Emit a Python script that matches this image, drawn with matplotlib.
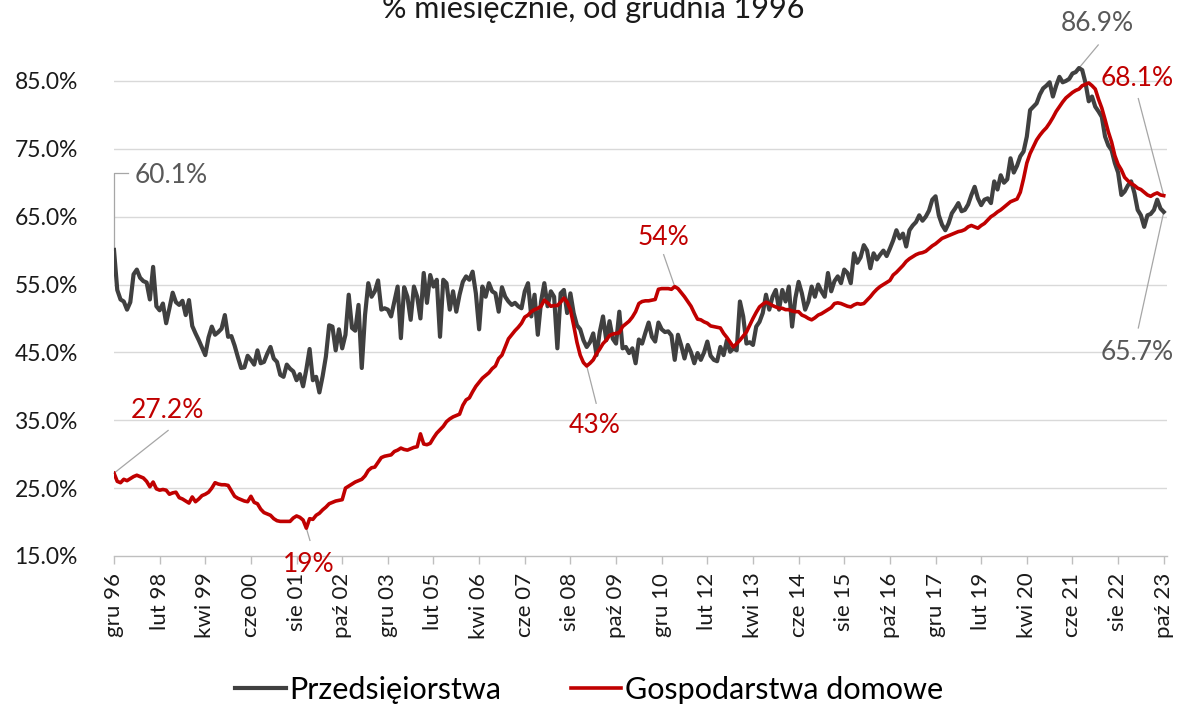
import matplotlib.pyplot as plt
import numpy as np

plt.rcParams['font.family'] = ['Lato', 'DejaVu Sans']

# monthly values, % (gru 1996 .. paź 2023), one row per calendar year
przedsiebiorstwa = [
    60.1,
    54.2, 52.8, 52.5, 51.3, 52.4, 56.5, 57.2, 56.0, 55.5, 55.3, 52.8, 57.6,
    51.8, 51.2, 52.2, 49.3, 51.5, 53.8, 52.4, 52.0, 52.6, 50.5, 52.7, 48.9,
    47.8, 46.8, 45.7, 44.6, 47.2, 48.8, 47.6, 48.0, 48.5, 50.5, 47.3, 47.4,
    46.0, 44.3, 42.7, 42.8, 44.5, 43.9, 43.2, 45.3, 43.4, 43.6, 44.8, 45.8,
    44.1, 43.6, 41.7, 41.4, 43.2, 42.6, 42.2, 40.9, 41.8, 40.0, 42.5, 45.5,
    40.9, 41.4, 39.1, 41.5, 44.4, 49.0, 48.8, 45.3, 48.4, 45.6, 47.6, 53.5,
    48.6, 48.2, 52.0, 42.7, 50.5, 55.2, 53.2, 54.0, 55.6, 51.3, 51.5, 51.3,
    50.3, 52.5, 54.7, 47.1, 54.6, 53.2, 49.8, 54.7, 53.2, 50.0, 56.7, 52.3,
    56.4, 54.7, 55.7, 47.3, 55.7, 55.2, 51.3, 54.0, 51.0, 53.5, 55.4, 56.2,
    55.7, 56.9, 53.7, 48.4, 54.7, 53.2, 55.2, 54.0, 53.7, 51.0, 54.6, 53.2,
    52.5, 52.0, 52.3, 51.8, 51.5, 54.0, 55.2, 50.3, 53.5, 47.6, 52.5, 55.2,
    51.8, 54.0, 53.2, 45.6, 53.7, 54.2, 50.8, 53.7, 50.8, 49.0, 48.4, 46.8,
    45.8, 46.5, 47.8, 44.6, 48.0, 50.3, 46.8, 49.6, 47.0, 46.3, 51.0, 45.6,
    45.8, 44.9, 45.6, 43.4, 46.9, 46.3, 47.9, 49.4, 47.3, 46.6, 49.4, 48.4,
    48.0, 48.1, 47.5, 43.9, 47.6, 46.0, 44.1, 46.1, 45.0, 43.4, 44.9, 43.9,
    45.0, 46.6, 44.5, 43.9, 43.7, 45.8, 44.6, 46.8, 45.1, 45.6, 45.3, 52.5,
    50.3, 46.3, 46.5, 46.1, 48.8, 49.5, 50.8, 53.5, 51.3, 53.2, 54.2, 51.3,
    54.2, 52.5, 54.7, 48.8, 53.0, 55.4, 53.7, 51.3, 52.5, 54.7, 53.2, 55.0,
    54.0, 53.2, 56.7, 54.0, 55.5, 56.2, 55.2, 57.2, 56.7, 55.2, 59.6, 58.2,
    59.0, 60.8, 60.0, 57.4, 59.6, 58.7, 59.4, 60.0, 59.2, 60.3, 61.5, 63.0,
    61.8, 62.5, 60.6, 63.0, 63.7, 64.2, 65.2, 64.4, 65.0, 65.9, 67.5, 68.0,
    65.2, 63.8, 63.0, 64.0, 65.5, 66.2, 67.0, 65.8, 66.0, 66.8, 68.2, 69.4,
    67.7, 66.7, 67.5, 67.7, 67.0, 70.2, 69.0, 71.1, 70.0, 70.5, 73.6, 71.5,
    72.5, 73.9, 74.6, 76.8, 80.7, 81.2, 81.7, 83.0, 83.9, 84.3, 84.8, 82.7,
    84.3, 85.6, 84.8, 85.0, 85.3, 86.1, 86.3, 86.9, 86.6, 84.7, 82.0, 82.7,
    81.2, 80.5, 79.7, 76.8, 75.5, 74.8, 72.9, 71.5, 68.2, 68.7, 69.6, 70.2,
    68.5, 66.0, 65.2, 63.5, 65.2, 65.4, 66.0, 67.5, 66.2, 65.7,
]

gospodarstwa = [
    27.2,
    26.0, 25.8, 26.3, 26.1, 26.4, 26.7, 26.9, 26.7, 26.5, 26.0, 25.2, 25.9,
    24.9, 24.7, 24.8, 24.7, 24.1, 24.3, 24.4, 23.6, 23.4, 23.1, 22.8, 23.7,
    23.0, 23.4, 23.9, 24.1, 24.4, 25.0, 25.8, 25.6, 25.5, 25.5, 25.4, 24.6,
    23.8, 23.5, 23.3, 23.1, 23.0, 23.8, 22.9, 22.7, 21.9, 21.4, 21.2, 21.0,
    20.5, 20.2, 20.1, 20.1, 20.1, 20.1, 20.6, 20.9, 20.7, 20.3, 19.1, 20.5,
    20.4, 21.0, 21.3, 21.8, 22.2, 22.7, 22.9, 23.1, 23.2, 23.3, 25.0, 25.3,
    25.6, 25.9, 26.1, 26.3, 26.8, 27.6, 28.0, 28.1, 28.8, 29.5, 29.7, 29.8,
    29.9, 30.4, 30.6, 30.9, 30.7, 30.6, 30.8, 31.0, 31.1, 33.0, 31.5, 31.4,
    31.6, 32.4, 33.1, 33.6, 34.1, 34.8, 35.2, 35.5, 35.7, 35.9, 37.2, 38.0,
    38.3, 39.2, 40.0, 40.6, 41.2, 41.6, 42.0, 42.6, 43.0, 44.1, 44.6, 45.8,
    47.0, 47.6, 48.2, 48.7, 49.3, 50.2, 50.5, 51.0, 51.3, 51.5, 51.8, 52.7,
    52.3, 51.8, 51.9, 51.9, 52.4, 53.0, 52.4, 51.3, 49.0, 46.5, 44.6, 43.5,
    43.0, 43.4, 43.9, 44.8, 45.5, 46.3, 46.8, 47.5, 47.7, 47.8, 47.9, 48.8,
    49.2, 49.6, 50.2, 51.0, 52.2, 52.5, 52.6, 52.6, 52.7, 52.8, 54.3, 54.4,
    54.4, 54.4, 54.3, 54.7, 54.4, 53.8, 53.2, 52.5, 51.8, 50.8, 49.9, 49.8,
    49.5, 49.3, 48.9, 48.8, 48.7, 48.6, 47.8, 47.2, 46.5, 45.8, 46.3, 46.8,
    47.4, 48.0, 49.0, 50.0, 50.9, 51.7, 52.1, 52.4, 52.2, 51.9, 51.7, 51.5,
    51.5, 51.3, 51.3, 51.1, 51.0, 51.0, 50.5, 50.3, 50.0, 49.8, 50.1, 50.5,
    50.7, 51.0, 51.3, 51.6, 52.2, 52.3, 52.2, 52.0, 51.8, 51.7, 52.0, 52.2,
    52.1, 52.2, 52.7, 53.2, 53.8, 54.3, 54.7, 55.0, 55.3, 55.6, 56.4, 56.8,
    57.3, 57.8, 58.4, 58.8, 59.1, 59.4, 59.6, 59.7, 59.9, 60.3, 60.7, 61.0,
    61.4, 61.8, 62.0, 62.2, 62.4, 62.6, 62.8, 62.9, 63.1, 63.5, 63.7, 63.5,
    63.3, 63.7, 64.0, 64.5, 65.0, 65.3, 65.7, 66.0, 66.4, 66.8, 67.2, 67.4,
    67.6, 68.6, 70.6, 72.9, 74.3, 75.3, 76.3, 77.0, 77.6, 78.1, 78.8, 79.6,
    80.5, 81.2, 81.9, 82.5, 82.9, 83.3, 83.6, 83.8, 84.3, 84.5, 84.7, 84.3,
    83.8, 82.3, 81.0, 79.3, 77.5, 76.0, 74.0, 72.7, 71.9, 70.8, 70.3, 69.9,
    69.6, 69.2, 69.0, 68.6, 68.2, 68.0, 68.3, 68.5, 68.2, 68.1,
]

# every 14th month gets a label
tick_labels = [
    'gru 96', 'lut 98', 'kwi 99', 'cze 00', 'sie 01', 'paź 02',
    'gru 03', 'lut 05', 'kwi 06', 'cze 07', 'sie 08', 'paź 09',
    'gru 10', 'lut 12', 'kwi 13', 'cze 14', 'sie 15', 'paź 16',
    'gru 17', 'lut 19', 'kwi 20', 'cze 21', 'sie 22', 'paź 23',
]
tick_step = 14

GRAY = '#404040'
GRAY_TXT = '#595959'
RED = '#C00000'
LEADER = '#a6a6a6'

fig = plt.figure(figsize=(11.78, 7.09), dpi=100)
ax = fig.add_axes([114 / 1178, 153 / 709, 1053 / 1178, 509 / 709])

x = np.arange(len(przedsiebiorstwa))
g = np.array(przedsiebiorstwa)
r = np.array(gospodarstwa)

ax.plot(x, g, color=GRAY, lw=3.0, solid_joinstyle='round',
        label='Przedsięiorstwa', zorder=3)
ax.plot(x, r, color=RED, lw=2.6, solid_joinstyle='round',
        label='Gospodarstwa domowe', zorder=4)

ax.set_xlim(0, len(x))
ax.set_ylim(15, 90)

yt = np.arange(15, 86, 10)
ax.set_yticks(yt)
ax.set_yticklabels([f'{v:.1f}%' for v in yt])
ax.tick_params(axis='y', length=0, pad=26, labelsize=16.5, labelcolor='#1a1a1a')
for v in yt[1:]:
    ax.axhline(v, color='#d9d9d9', lw=1, zorder=1)

xt = np.arange(0, len(x), tick_step)
ax.set_xticks(xt)
ax.set_xticklabels(tick_labels, rotation=90)
ax.tick_params(axis='x', length=6, width=1, color='#bfbfbf', pad=6,
               labelsize=16, labelcolor='#1a1a1a')

for s in ['top', 'right', 'left']:
    ax.spines[s].set_visible(False)
ax.spines['bottom'].set_color('#bfbfbf')
ax.spines['bottom'].set_linewidth(1)


def note(i, series, text, leader, txy, color, ha='center'):
    # leader line from the point through the given waypoints, then the label
    xs = [i] + [p[0] for p in leader]
    ys = [series[i]] + [p[1] for p in leader]
    ax.plot(xs, ys, color=LEADER, lw=0.9, zorder=2, clip_on=False)
    ax.text(txy[0], txy[1], text, color=color, fontsize=19, ha=ha,
            va='center', clip_on=False)


note(0, g, '60.1%', [(0, 71.5), (4.3, 71.5)], (6.3, 71.0), GRAY_TXT, ha='left')
note(0, r, '27.2%', [(16.6, 33.5)], (16.4, 36.4), RED)
note(59, r, '19%', [(60.1, 17.3)], (59.8, 13.8), RED)
note(145, r, '43%', [(147.9, 37.5)], (147.5, 34.3), RED)
note(172, r, '54%', [(168.6, 59.4)], (168.6, 62.0), RED)
note(296, g, '86.9%', [(301.9, 90.3)], (301.7, 93.4), GRAY_TXT)
note(322, r, '68.1%', [(314.2, 82.4)], (314.0, 85.4), RED)
note(322, g, '65.7%', [(314.2, 48.6)], (314.0, 45.0), GRAY_TXT)

fig.text(0.504, 1 - 18 / 709, '% miesięcznie, od grudnia 1996',
         ha='center', va='baseline', fontsize=22, color='#1a1a1a')

fig.legend(loc='center', bbox_to_anchor=(0.5, 1 - 690 / 709), ncol=2,
           frameon=False, fontsize=22, handlelength=1.65, handletextpad=0.1,
           columnspacing=2.3, borderaxespad=0)

fig.savefig('out.png', dpi=100)
